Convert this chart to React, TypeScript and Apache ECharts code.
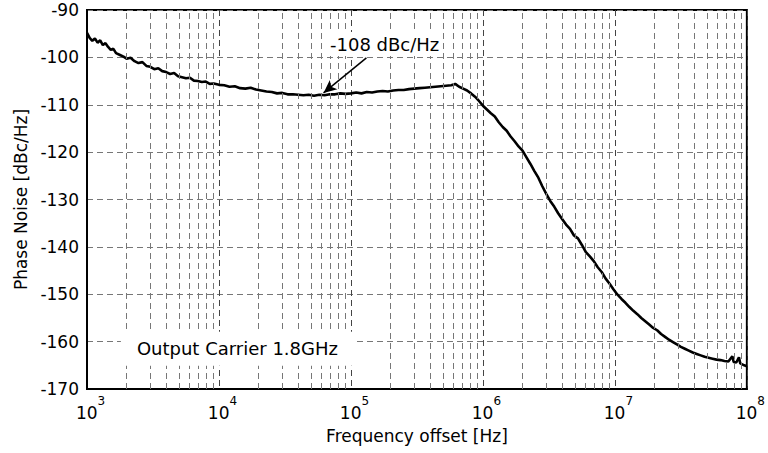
import React, { useEffect, useRef } from "react";
import * as echarts from "echarts";

// log10 of frequency offset [Hz]
const logFreq = [
  3.0, 3.02, 3.04, 3.06, 3.08, 3.1, 3.12, 3.14, 3.16, 3.18, 3.2, 3.22, 3.25, 3.28, 3.3, 3.33, 3.36, 3.39, 3.42, 3.45,
  3.48, 3.51, 3.54, 3.57, 3.6, 3.63, 3.66, 3.69, 3.72, 3.75, 3.78, 3.81, 3.84, 3.87, 3.9, 3.93, 3.96, 4.0, 4.04, 4.08,
  4.12, 4.16, 4.2, 4.24, 4.28, 4.32, 4.36, 4.4, 4.44, 4.48, 4.52, 4.56, 4.6, 4.64, 4.68, 4.72, 4.76, 4.8, 4.84, 4.88,
  4.92, 4.96, 5.0, 5.04, 5.08, 5.12, 5.16, 5.2, 5.24, 5.28, 5.32, 5.36, 5.4, 5.44, 5.48, 5.52, 5.56, 5.6, 5.64, 5.68,
  5.72, 5.76, 5.79, 5.82, 5.85, 5.88, 5.91, 5.94, 5.97,
  6.0, 6.03, 6.06, 6.09, 6.12, 6.15, 6.18, 6.21, 6.24, 6.27, 6.3, 6.33, 6.36, 6.39, 6.42, 6.45, 6.48, 6.51, 6.54, 6.57,
  6.6, 6.63, 6.66, 6.69, 6.72, 6.75, 6.78, 6.81, 6.84, 6.87, 6.9, 6.93, 6.96, 6.99, 7.02, 7.05, 7.08, 7.11, 7.14, 7.17,
  7.2, 7.23, 7.26, 7.29, 7.32, 7.35, 7.38, 7.41, 7.44, 7.47, 7.5, 7.53, 7.56, 7.59, 7.62, 7.65, 7.68, 7.71, 7.74, 7.77,
  7.8, 7.83, 7.86, 7.89, 7.9, 7.92, 7.94, 7.95, 7.98, 8.0,
];

// Phase noise [dBc/Hz]
const phaseNoise = [
  -94.8, -95.9, -96.5, -96.0, -96.9, -96.4, -97.4, -97.0, -97.8, -98.4, -98.2, -99.1, -99.5, -99.9, -100.3, -100.1, -100.8, -101.2, -101.0, -101.8,
  -102.0, -102.5, -102.3, -102.9, -103.1, -103.5, -103.3, -104.0, -104.2, -104.4, -104.3, -104.9, -105.0, -105.2, -105.1, -105.6, -105.5, -105.8, -105.9, -106.2,
  -106.1, -106.5, -106.6, -106.4, -106.8, -107.0, -107.2, -107.3, -107.6, -107.5, -107.8, -107.8, -107.9, -108.0, -107.9, -108.1, -107.9, -108.0, -107.8, -107.8,
  -107.6, -107.7, -107.6, -107.4, -107.6, -107.3, -107.4, -107.2, -107.1, -107.2, -107.0, -106.9, -106.9, -106.7, -106.6, -106.5, -106.4, -106.3, -106.2, -106.1,
  -106.0, -105.9, -105.6, -106.2, -106.6, -107.0, -107.6, -108.3, -109.2,
  -110.2, -111.0, -111.8, -112.5, -113.7, -114.7, -115.5, -116.7, -117.7, -118.8, -119.7, -121.1, -122.5, -124.0, -125.4, -127.2, -128.8, -130.3, -131.5, -132.9,
  -134.1, -135.3, -136.2, -137.6, -138.2, -139.6, -141.1, -142.0, -143.0, -144.3, -145.3, -146.7, -147.8, -149.0, -150.1, -151.0, -151.8, -152.7, -153.5, -154.2,
  -155.0, -155.7, -156.4, -157.1, -157.6, -158.4, -159.0, -159.6, -160.1, -160.6, -161.1, -161.5, -161.9, -162.3, -162.6, -162.9, -163.2, -163.4, -163.6, -163.8,
  -163.9, -164.1, -164.2, -163.1, -164.3, -164.4, -163.3, -164.6, -165.0, -165.2,
];

const decades = [1e3, 1e4, 1e5, 1e6, 1e7];
const minorMultipliers = [2, 3, 4, 5, 6, 7, 8, 9];

const yTicks = { min: -170, max: -90, interval: 10 };
const xRange = { min: 1e3, max: 1e8 };

const noteLabel = "-108 dBc/Hz";
const noteTextAt = [1.8e5, -97.2];
const noteArrowFrom = [1.31e5, -100.1];
const noteArrowTo = [6.2e4, -107.5];
const carrierLabel = "Output Carrier 1.8GHz";
const carrierTextAt = [1.38e4, -161.5];

const FONT = "DejaVu Sans";

export default function App() {
  const ref = useRef<HTMLDivElement>(null);
  useEffect(() => {
    if (!ref.current) return;
    const chart = echarts.init(ref.current, null, { renderer: "svg" });
    const data = logFreq.map((l, i) => [Math.pow(10, l), phaseNoise[i]]);
    const minorLines: any[] = [];
    decades.forEach((d) => minorMultipliers.forEach((m) => minorLines.push({ xAxis: d * m })));
    chart.setOption({
      animation: false,
      backgroundColor: "#fff",
      grid: {
        left: 87,
        right: 17,
        top: 10,
        bottom: 64,
        show: true,
        borderColor: "#000",
        borderWidth: 2,
        backgroundColor: "transparent",
      },
      xAxis: {
        type: "log",
        logBase: 10,
        min: xRange.min,
        max: xRange.max,
        splitNumber: 5,
        name: "Frequency offset [Hz]",
        nameLocation: "middle",
        nameGap: 38,
        nameTextStyle: { fontFamily: FONT, fontSize: 17, color: "#000" },
        axisLine: { show: true, lineStyle: { color: "#000", width: 2 } },
        axisTick: { show: false },
        axisLabel: {
          margin: 6,
          padding: [0, 0, 0, 7],
          formatter: (v: number) => `{a|10}{b|${Math.round(Math.log10(v))}}`,
          rich: {
            a: { fontFamily: FONT, fontSize: 17, color: "#000", lineHeight: 26, verticalAlign: "bottom" },
            b: { fontFamily: FONT, fontSize: 12, color: "#000", lineHeight: 26, verticalAlign: "top" },
          },
        },
        splitLine: { show: true, lineStyle: { color: "#444", type: [6, 4], width: 1 } },
      },
      yAxis: {
        type: "value",
        min: yTicks.min,
        max: yTicks.max,
        interval: yTicks.interval,
        name: "Phase Noise [dBc/Hz]",
        nameLocation: "middle",
        nameGap: 58,
        nameTextStyle: { fontFamily: FONT, fontSize: 17, color: "#000" },
        axisLine: { show: true, lineStyle: { color: "#000", width: 2 } },
        axisTick: { show: false },
        axisLabel: { fontFamily: FONT, fontSize: 17, color: "#000", margin: 8 },
        splitLine: { show: true, lineStyle: { color: "#777", type: [6, 4], width: 1 } },
      },
      series: [
        {
          type: "line",
          data: [],
          z: 1,
          markLine: {
            silent: true,
            symbol: ["none", "none"],
            label: { show: false },
            lineStyle: { color: "#777", type: [6, 4], width: 1 },
            data: minorLines,
          },
        },
        {
          type: "line",
          data,
          z: 3,
          symbol: "none",
          smooth: false,
          lineStyle: { color: "#000", width: 2.6 },
          markLine: {
            silent: true,
            symbol: ["none", "arrow"],
            symbolSize: [9, 13],
            label: { show: false },
            lineStyle: { color: "#000", width: 1.5, type: "solid" },
            data: [[{ coord: noteArrowFrom }, { coord: noteArrowTo }]],
          },
          markPoint: {
            silent: true,
            symbol: "rect",
            symbolSize: 0,
            data: [
              {
                coord: noteTextAt,
                label: {
                  show: true,
                  position: "inside",
                  formatter: noteLabel,
                  fontFamily: FONT,
                  fontSize: 18,
                  color: "#000",
                  backgroundColor: "#fff",
                  padding: [3, 3],
                },
              },
              {
                coord: carrierTextAt,
                label: {
                  show: true,
                  position: "inside",
                  formatter: carrierLabel,
                  fontFamily: FONT,
                  fontSize: 18,
                  color: "#000",
                  backgroundColor: "#fff",
                  padding: [8, 16],
                },
              },
            ],
          },
        },
      ],
    });
    return () => chart.dispose();
  }, []);
  return <div ref={ref} style={{ width: 768, height: 453, position: "absolute", left: 0, top: 0 }} />;
}
